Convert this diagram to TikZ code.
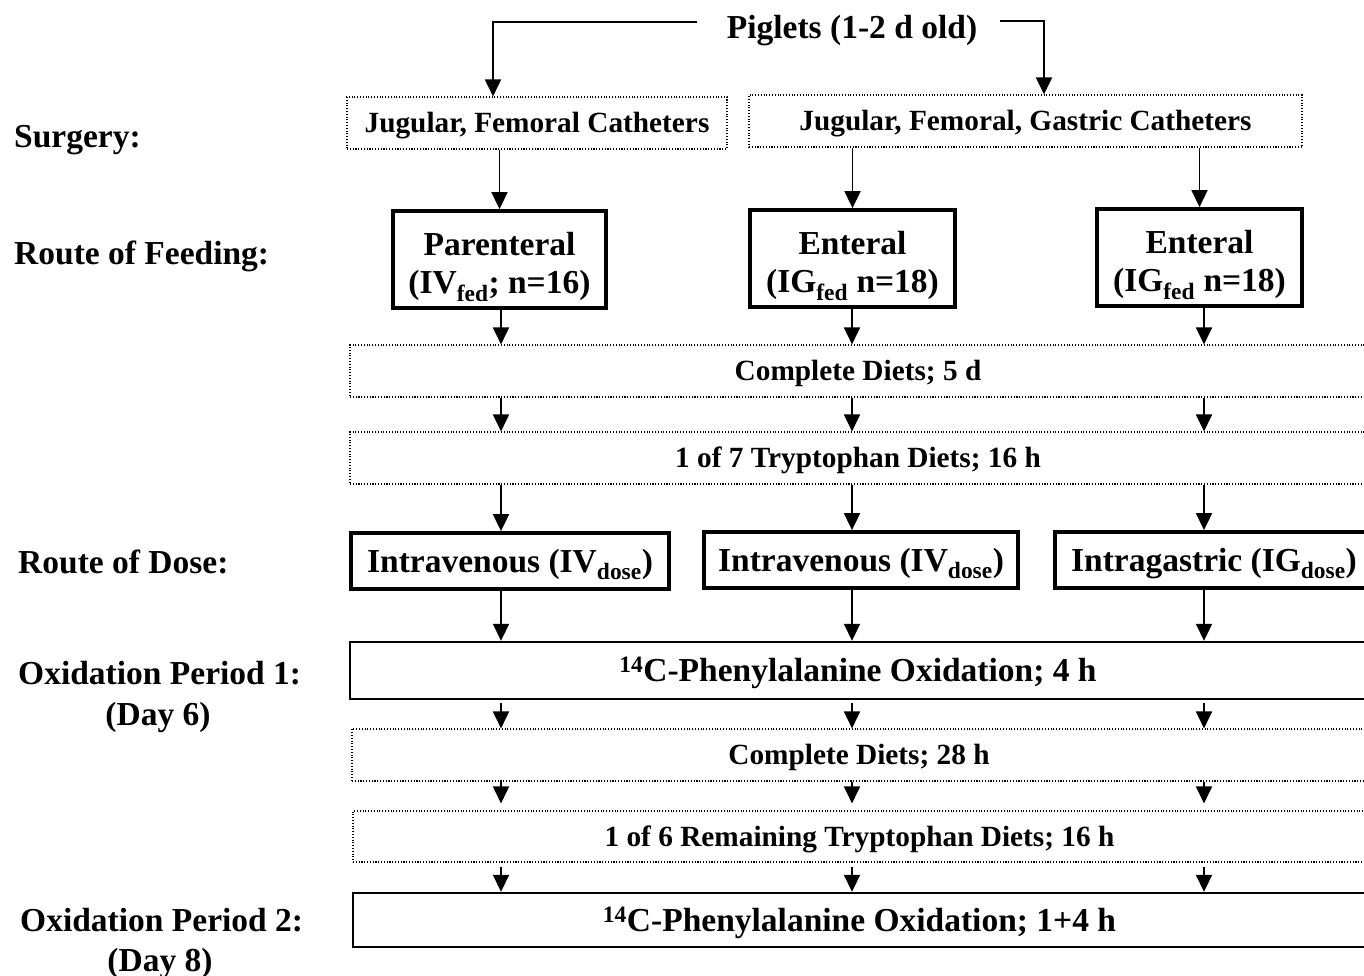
\documentclass[tikz,border=0pt]{standalone}
\usepackage{fontspec}
\setmainfont{Liberation Serif}
\usetikzlibrary{arrows.meta}
\newcommand\mysub[1]{\textsubscript{#1}}
\newcommand\mysup[1]{\textsuperscript{#1}}
\begin{document}
\begin{tikzpicture}[x=1pt,y=-1pt,
  big/.style={font=\fontsize{33.5}{38}\selectfont\bfseries},
  small/.style={font=\fontsize{29.3}{34}\selectfont\bfseries},
  dotbox/.style={draw, line width=1.1pt, dash pattern=on 1.1pt off 1.7pt, small, text height=19.4pt, text depth=0pt, inner sep=0pt, minimum height=52pt},
  thickbox/.style={draw, line width=3.8pt, big, inner sep=0pt},
  fedbox/.style={thickbox, align=center, minimum height=97pt, text height=68pt, text depth=0pt},
  oxbox/.style={draw, line width=2.4pt, big, inner sep=0pt, text height=22.2pt, text depth=0pt},
  lbl/.style={big, anchor=base west, inner sep=0pt},
  arr/.style={line width=1.8pt, -{Triangle[width=16pt,length=17pt]}},
]
\useasboundingbox (0,0) rectangle (1364,976);

\coordinate (c1) at (501,0);
\coordinate (c2) at (852,0);
\coordinate (c3) at (1204,0);

% labels
\node[lbl] (lsurg) at (14,148) {Surgery:};
\node[lbl] (lfeed) at (14,264) {Route of Feeding:};
\node[lbl] (ldose) at (18,573) {Route of Dose:};
\node[lbl] (lox1) at (18,684) {Oxidation Period 1:};
\node[big, anchor=base, inner sep=0pt] (lday6) at (158,725) {(Day 6)};
\node[lbl] (lox2) at (20,931) {Oxidation Period 2:};
\node[big, anchor=base, inner sep=0pt] (lday8) at (160,971) {(Day 8)};

% top
\node[big, inner sep=0pt, text height=22.2pt, text depth=0pt] (pig) at (852,27) {Piglets (1-2 d old)};
\node[dotbox, minimum width=380pt] (s1) at (537,123) {Jugular, Femoral Catheters};
\node[dotbox, minimum width=553pt] (s2) at (1025.5,121) {Jugular, Femoral, Gastric Catheters};

% feeding
\node[fedbox, minimum width=213pt] (f1) at (499.5,259.5) {Parenteral\\(IV\mysub{fed}; n=16)};
\node[fedbox, minimum width=205pt] (f2) at (852.5,258.5) {Enteral\\(IG\mysub{fed} n=18)};
\node[fedbox, minimum width=205pt] (f3) at (1199.5,257.5) {Enteral\\(IG\mysub{fed} n=18)};

% diets
\node[dotbox, minimum width=1016pt] (cd1) at (858,371) {Complete Diets; 5 d};
\node[dotbox, minimum width=1016pt] (t7) at (858,458) {1 of 7 Tryptophan Diets; 16 h};

% dose
\node[thickbox, text height=22.2pt, text depth=0pt, minimum width=318pt, minimum height=56pt] (d1) at (510,561) {Intravenous (IV\mysub{dose})};
\node[thickbox, text height=22.2pt, text depth=0pt, minimum width=314pt, minimum height=56pt] (d2) at (861,560) {Intravenous (IV\mysub{dose})};
\node[thickbox, text height=22.2pt, text depth=0pt, minimum width=318pt, minimum height=56pt] (d3) at (1214,560) {Intragastric (IG\mysub{dose})};

% oxidation etc.
\node[oxbox, minimum width=1016pt, minimum height=57pt] (ox1) at (858,670.5) {\mysup{14}C-Phenylalanine Oxidation; 4 h};
\node[dotbox, minimum width=1014pt] (cd2) at (859,755) {Complete Diets; 28 h};
\node[dotbox, minimum width=1013pt, minimum height=51pt] (t6) at (859.5,836.5) {1 of 6 Remaining Tryptophan Diets; 16 h};
\node[oxbox, minimum width=1013pt, minimum height=54pt] (ox2) at (859.5,920) {\mysup{14}C-Phenylalanine Oxidation; 1+4 h};

% connectors
\draw[arr] ([xshift=-30pt,yshift=5pt]pig.west) -| ([xshift=-44pt]s1.north);
\draw[arr] ([xshift=23pt,yshift=6pt]pig.east) -| ([xshift=18.5pt]s2.north);
\draw[arr] (s1.south -| f1.north) -- (f1.north);
\draw[arr] (s2.south -| f2.north) -- (f2.north);
\draw[arr] (s2.south -| f3.north) -- (f3.north);

\foreach \f/\d/\c in {f1/d1/c1, f2/d2/c2, f3/d3/c3} {
  \draw[arr] (\f.south -| \c) -- (cd1.north -| \c);
  \draw[arr] (cd1.south -| \c) -- (t7.north -| \c);
  \draw[arr] (t7.south -| \c) -- (\d.north -| \c);
  \draw[arr] (\d.south -| \c) -- (ox1.north -| \c);
  \draw[arr, shorten <=3pt] (ox1.south -| \c) -- (cd2.north -| \c);
  \draw[arr, shorten >=7pt] (cd2.south -| \c) -- (t6.north -| \c);
  \draw[arr, shorten <=4pt] (t6.south -| \c) -- (ox2.north -| \c);
}
\end{tikzpicture}
\end{document}
